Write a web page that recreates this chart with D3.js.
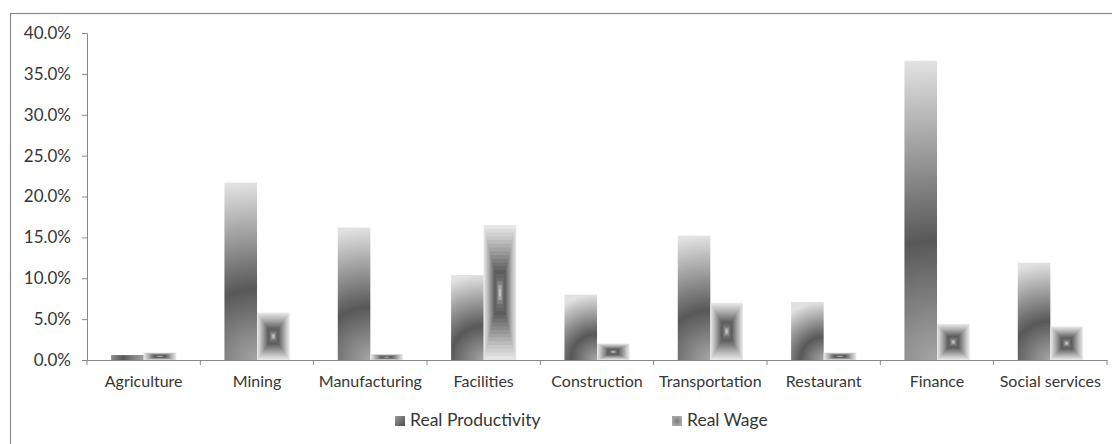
<!DOCTYPE html>
<html>
<head>
<meta charset="utf-8">
<script src="https://cdn.jsdelivr.net/npm/d3@7"></script>
<style>
  html, body { margin: 0; padding: 0; background: #fff; }
  svg { display: block; }
  text { font-family: Lato, "Open Sans", sans-serif; fill: #363636; }
</style>
</head>
<body>
<svg id="chart" width="1112" height="444"></svg>
<script>
// Growth rates by sector
const categories = ["Agriculture", "Mining", "Manufacturing", "Facilities", "Construction",
                    "Transportation", "Restaurant", "Finance", "Social services"];
const productivity = [0.006, 0.217, 0.162, 0.104, 0.080, 0.152, 0.071, 0.366, 0.119];
const wage         = [0.009, 0.058, 0.007, 0.165, 0.020, 0.070, 0.009, 0.044, 0.041];
const seriesNames  = ["Real Productivity", "Real Wage"];
const yTicks       = [0, 0.05, 0.10, 0.15, 0.20, 0.25, 0.30, 0.35, 0.40];

const W = 1112, H = 444;
const plot = { left: 87, right: 1107, top: 33, bottom: 360 };
const axisColor = "#878787";
const textColor = "#363636";

const svg = d3.select("#chart");
const defs = svg.append("defs");

// outer frame
svg.append("rect")
  .attr("x", 10.5).attr("y", 13.5)
  .attr("width", W).attr("height", H)
  .attr("fill", "none").attr("stroke", "#8c8c8c").attr("stroke-width", 1.2);

const x0 = d3.scaleBand().domain(categories).range([plot.left, plot.right]).padding(0);
const x1 = d3.scaleBand().domain(seriesNames).range([0, x0.bandwidth()])
  .paddingInner(0).paddingOuter(0.74);
const y = d3.scaleLinear().domain([0, 0.4]).range([plot.bottom, plot.top]);

// y axis
const yAxis = svg.append("g")
  .attr("transform", `translate(${plot.left},0)`)
  .call(d3.axisLeft(y).tickValues(yTicks).tickFormat(d3.format(".1%"))
        .tickSizeInner(5).tickSizeOuter(0).tickPadding(11));
yAxis.select(".domain").attr("stroke", axisColor);
yAxis.selectAll(".tick line").attr("stroke", axisColor);
yAxis.selectAll(".tick text").attr("font-size", 17).attr("fill", textColor)
  .attr("font-family", "Lato, 'Open Sans', sans-serif");

// x axis: labels centred in each band, ticks on band boundaries
const xAxis = svg.append("g")
  .attr("transform", `translate(0,${plot.bottom})`)
  .call(d3.axisBottom(x0).tickSizeInner(0).tickSizeOuter(0).tickPadding(16));
xAxis.select(".domain").attr("stroke", axisColor);
xAxis.selectAll(".tick text").attr("font-size", 16).attr("fill", textColor)
  .attr("font-family", "Lato, 'Open Sans', sans-serif");
const boundaries = categories.map(c => x0(c)).concat([x0.range()[1]]);
svg.append("g").selectAll("line").data(boundaries).join("line")
  .attr("x1", d => d).attr("x2", d => d)
  .attr("y1", plot.bottom).attr("y2", plot.bottom + 5)
  .attr("stroke", axisColor);

// productivity bars: radial shading anchored at the bottom-right corner of each bar
const prodStops = [[0, "#a6a6a6"], [0.4, "#585858"], [1, "#e2e2e2"]];
const prodData = categories.map((c, i) => {
  const bx = x0(c) + x1(seriesNames[0]);
  const bw = x1.bandwidth();
  const top = y(productivity[i]);
  return { i, c, v: productivity[i], x: bx, w: bw, top, h: y(0) - top };
});
prodData.forEach(d => {
  const g = defs.append("radialGradient")
    .attr("id", "prod-grad-" + d.i)
    .attr("gradientUnits", "userSpaceOnUse")
    .attr("cx", d.x + d.w).attr("cy", y(0))
    .attr("fx", d.x + d.w).attr("fy", y(0))
    .attr("r", Math.max(d.h, d.w * 1.6));
  prodStops.forEach(s => g.append("stop").attr("offset", s[0]).attr("stop-color", s[1]));
});
svg.append("g").selectAll("rect").data(prodData).join("rect")
  .attr("x", d => d.x).attr("y", d => d.top)
  .attr("width", d => d.w).attr("height", d => d.h)
  .attr("fill", d => `url(#prod-grad-${d.i})`);

// wage bars: rectangular "from centre" shading built from nested rectangles
const wageShade = d3.scaleLinear()
  .domain([0, 0.25, 0.7, 0.85, 1])
  .range(["#e6e6e6", "#b8b8b8", "#5c5c5c", "#707070", "#c4c4c4"]);
const steps = 18;
const wageData = categories.map((c, i) => {
  const bx = x0(c) + x1(seriesNames[1]);
  const bw = x1.bandwidth();
  const top = y(wage[i]);
  return { i, c, v: wage[i], x: bx, w: bw, top, h: y(0) - top };
});
const wageG = svg.append("g").selectAll("g").data(wageData).join("g");
wageG.selectAll("rect")
  .data(d => d3.range(steps).map(k => ({ d, k })))
  .join("rect")
  .attr("x", e => e.d.x + e.k * e.d.w / (2 * steps))
  .attr("y", e => e.d.top + e.k * e.d.h / (2 * steps))
  .attr("width", e => e.d.w - e.k * e.d.w / steps)
  .attr("height", e => e.d.h - e.k * e.d.h / steps)
  .attr("fill", e => wageShade(e.k / (steps - 1)));

// legend
const legendX = [395, 672];
const lg = defs.append("linearGradient").attr("id", "leg-prod")
  .attr("x1", 0).attr("y1", 0).attr("x2", 1).attr("y2", 1);
lg.append("stop").attr("offset", 0).attr("stop-color", "#9a9a9a");
lg.append("stop").attr("offset", 1).attr("stop-color", "#4c4c4c");
const lw = defs.append("radialGradient").attr("id", "leg-wage");
lw.append("stop").attr("offset", 0).attr("stop-color", "#7a7a7a");
lw.append("stop").attr("offset", 1).attr("stop-color", "#a8a8a8");

const legend = svg.append("g").selectAll("g").data(seriesNames).join("g")
  .attr("transform", (d, i) => `translate(${legendX[i]},0)`);
legend.append("rect")
  .attr("x", 0).attr("y", 416).attr("width", 10).attr("height", 10)
  .attr("fill", (d, i) => i === 0 ? "url(#leg-prod)" : "url(#leg-wage)");
legend.append("text")
  .attr("x", 15).attr("y", 426)
  .attr("font-size", 17.5)
  .text(d => d);
</script>
</body>
</html>
